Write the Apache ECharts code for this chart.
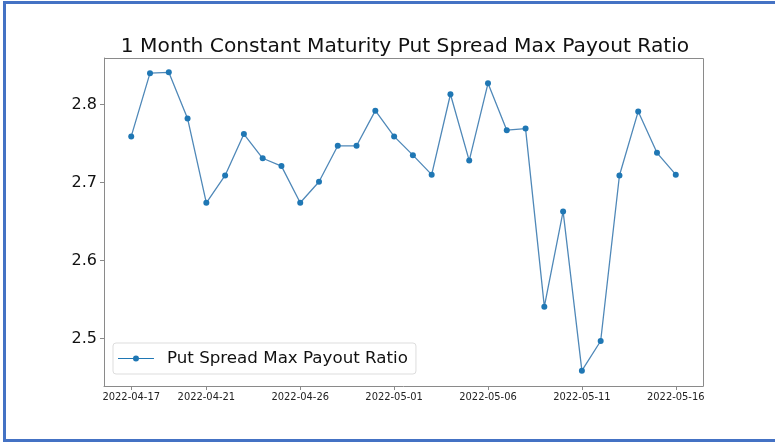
<!DOCTYPE html>
<html>
<head>
<meta charset="utf-8">
<script src="https://cdn.jsdelivr.net/npm/echarts@6/dist/echarts.min.js"></script>
<style>
  html, body { margin: 0; padding: 0; background: #fff; }
  #chart { width: 775px; height: 442px; }
</style>
</head>
<body>
<div id="chart"></div>
<script>
// daily dates and ratio values
const dates = [
  '2022-04-17', '2022-04-18', '2022-04-19', '2022-04-20', '2022-04-21',
  '2022-04-22', '2022-04-23', '2022-04-24', '2022-04-25', '2022-04-26',
  '2022-04-27', '2022-04-28', '2022-04-29', '2022-04-30', '2022-05-01',
  '2022-05-02', '2022-05-03', '2022-05-04', '2022-05-05', '2022-05-06',
  '2022-05-07', '2022-05-08', '2022-05-09', '2022-05-10', '2022-05-11',
  '2022-05-12', '2022-05-13', '2022-05-14', '2022-05-15', '2022-05-16'
]
const ratio = [
  2.759, 2.840, 2.841, 2.782, 2.674,
  2.709, 2.762, 2.731, 2.721, 2.674,
  2.701, 2.747, 2.747, 2.792, 2.759,
  2.735, 2.710, 2.813, 2.728, 2.827,
  2.767, 2.769, 2.541, 2.663, 2.459,
  2.497, 2.709, 2.791, 2.738, 2.710
]
const xTicks = ['2022-04-17', '2022-04-21', '2022-04-26', '2022-05-01', '2022-05-06', '2022-05-11', '2022-05-16']
const yTicks = [2.5, 2.6, 2.7, 2.8]

// x position = day number from the first date
const DAY = 24 * 3600 * 1000
function toTime( s ) {
  const p = s.split( '-' )
  return Date.UTC( +p[0], +p[1] - 1, +p[2] )
}
const first = toTime( dates[0] )
const dayOf = ( s ) => Math.round( ( toTime( s ) - first ) / DAY )
const span = dayOf( dates[dates.length - 1] )
const pad = span * 0.05

const chart = echarts.init( document.getElementById( 'chart' ) )
chart.setOption( {
  backgroundColor : '#ffffff',
  animation : false,
  textStyle : { fontFamily : 'DejaVu Sans' },
  title : {
    text : '1 Month Constant Maturity Put Spread Max Payout Ratio',
    left : 400,
    top : 32,
    textAlign : 'center',
    textStyle : { fontFamily : 'DejaVu Sans', fontWeight : 'normal', fontSize : 20.2, color : '#111' }
  },
  graphic : [ {
    type : 'polyline',
    shape : { points : [ [ 790, 2.5 ], [ 4.5, 2.5 ], [ 4.5, 440.5 ], [ 790, 440.5 ] ] },
    style : { stroke : '#4472c4', lineWidth : 3, fill : null }
  }, {
    type : 'polyline',
    shape : { points : [ [ 104.5, 58.5 ], [ 703.5, 58.5 ], [ 703.5, 386.5 ] ] },
    style : { stroke : '#8a8a8a', lineWidth : 1, fill : null }
  } ],
  legend : {
    left : 113,
    top : 343,
    padding : [ 7, 8, 7, 5 ],
    itemWidth : 36,
    itemHeight : 11,
    itemGap : 10,
    backgroundColor : '#fff',
    borderColor : '#ddd',
    borderWidth : 1,
    borderRadius : 3,
    textStyle : { fontFamily : 'DejaVu Sans', fontSize : 16.7, color : '#111', padding : [ 0, 0, 0, 8 ] },
    data : [ { name : 'Put Spread Max Payout Ratio', icon : 'path://M0,5 L36,5 L36,6 L0,6 Z M15,5.5 A3,3 0 1 1 21,5.5 A3,3 0 1 1 15,5.5 Z M0,0 L0,0.01 Z M0,11 L0,11.01 Z' } ]
  },
  grid : { left : 104, right : 72, top : 58, bottom : 56 },
  xAxis : {
    type : 'value',
    min : -pad,
    max : span + pad,
    splitLine : { show : false },
    axisLine : { show : true, onZero : false, lineStyle : { color : '#8a8a8a', width : 1 } },
    axisTick : { show : true, length : 4, customValues : xTicks.map( dayOf ), lineStyle : { color : '#8a8a8a' } },
    axisLabel : {
      customValues : xTicks.map( dayOf ),
      formatter : ( v ) => dates[Math.round( v )],
      fontFamily : 'DejaVu Sans Condensed',
      fontSize : 11,
      color : '#222',
      margin : 6
    }
  },
  yAxis : {
    type : 'value',
    min : 2.4394,
    max : 2.8594,
    splitLine : { show : false },
    axisLine : { show : true, onZero : false, lineStyle : { color : '#8a8a8a', width : 1 } },
    axisTick : { show : true, length : 4, customValues : yTicks, lineStyle : { color : '#8a8a8a' } },
    axisLabel : {
      customValues : yTicks,
      formatter : ( v ) => v.toFixed( 1 ),
      fontFamily : 'DejaVu Sans',
      fontSize : 16,
      color : '#111',
      margin : 7
    }
  },
  series : [ {
    name : 'Put Spread Max Payout Ratio',
    type : 'line',
    data : dates.map( ( d, i ) => [ dayOf( d ), ratio[i] ] ),
    symbol : 'circle',
    symbolSize : 6,
    itemStyle : { color : '#1f77b4' },
    lineStyle : { color : '#4f88b8', width : 1.3 }
  } ]
} )
</script>
</body>
</html>
